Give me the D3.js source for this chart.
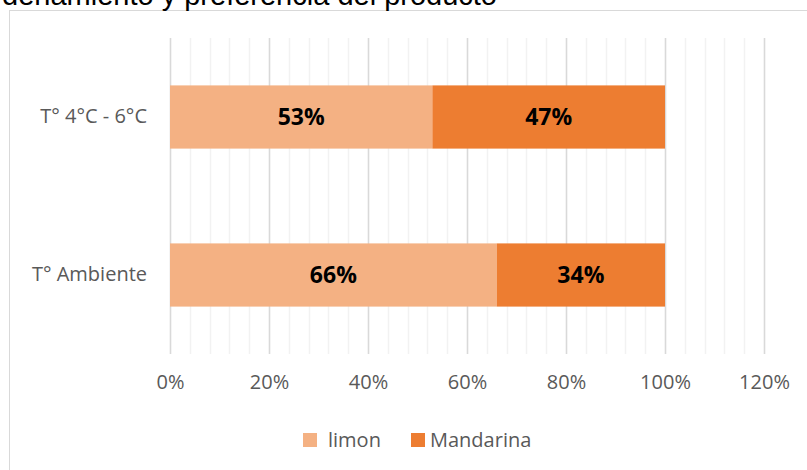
<!DOCTYPE html>
<html lang="es">
<head>
<meta charset="utf-8">
<title>limon vs mandarina</title>
<script src="https://cdn.jsdelivr.net/npm/d3@7"></script>
<style>
  body { margin: 0; background: #fff; }
  text { font-family: "Open Sans", sans-serif; }
</style>
</head>
<body>
<script>
// data
var categories = ["T° 4°C - 6°C", "T° Ambiente"];
var limon = [0.53, 0.66];
var mandarina = [0.47, 0.34];
var seriesNames = ["limon", "Mandarina"];
var tickValues = [0, 0.2, 0.4, 0.6, 0.8, 1.0, 1.2];
var titleText = "denamiento y preferencia del producto";

var w = 807, h = 470;
var colors = { limon: "#F4B183", Mandarina: "#ED7D31" };

var svg = d3.select("body").append("svg")
  .attr("width", w)
  .attr("height", h);

// chart border (runs off the right and bottom)
svg.append("rect")
  .attr("x", 9.5).attr("y", 10.5)
  .attr("width", w).attr("height", h)
  .attr("fill", "none")
  .attr("stroke", "#D9D9D9");

// title, only its lower part shows
svg.append("text")
  .attr("x", 497).attr("y", 5)
  .attr("text-anchor", "end")
  .style("font-family", "'Liberation Sans', Arial, sans-serif")
  .style("font-size", "29px")
  .attr("fill", "#000")
  .text(titleText);

var xScale = d3.scaleLinear().domain([0, 1.2]).range([170, 764]);
var yScale = d3.scaleBand().domain(categories).range([38, 354])
  .paddingInner(0.6).paddingOuter(0.3);

// minor gridlines every 4%
var minor = d3.range(0, 31).map(function(i) { return i * 0.04; });
svg.append("g").selectAll("line")
  .data(minor)
  .enter().append("line")
  .attr("x1", function(d) { return Math.round(xScale(d)) + 0.5; })
  .attr("x2", function(d) { return Math.round(xScale(d)) + 0.5; })
  .attr("y1", 38).attr("y2", 354)
  .attr("stroke", "#F2F2F2")
  .attr("stroke-width", 1.5);

// major gridlines
svg.append("g").selectAll("line")
  .data(tickValues)
  .enter().append("line")
  .attr("x1", function(d) { return Math.round(xScale(d)) + 0.5; })
  .attr("x2", function(d) { return Math.round(xScale(d)) + 0.5; })
  .attr("y1", 38).attr("y2", 354)
  .attr("stroke", "#D9D9D9")
  .attr("stroke-width", 1.5);

// stacked rows
var rows = categories.map(function(c, i) {
  return { cat: c, limon: limon[i], Mandarina: mandarina[i] };
});
var stacked = d3.stack().keys(seriesNames)(rows);

var layers = svg.append("g").selectAll("g")
  .data(stacked)
  .enter().append("g")
  .attr("fill", function(d) { return colors[d.key]; });

layers.selectAll("rect")
  .data(function(d) { return d; })
  .enter().append("rect")
  .attr("x", function(d) { return xScale(d[0]); })
  .attr("width", function(d) { return xScale(d[1]) - xScale(d[0]); })
  .attr("y", function(d) { return yScale(d.data.cat); })
  .attr("height", yScale.bandwidth());

// value labels
layers.selectAll("text")
  .data(function(d) { return d; })
  .enter().append("text")
  .attr("x", function(d) { return (xScale(d[0]) + xScale(d[1])) / 2; })
  .attr("y", function(d) { return yScale(d.data.cat) + yScale.bandwidth() / 2; })
  .attr("text-anchor", "middle")
  .attr("dy", "0.36em")
  .attr("fill", "#000")
  .style("font-size", "23px")
  .style("font-weight", "bold")
  .text(function(d) { return Math.round((d[1] - d[0]) * 100) + "%"; });

// x axis labels
var xAxis = d3.axisBottom(xScale)
  .tickValues(tickValues)
  .tickSize(0)
  .tickPadding(0)
  .tickFormat(d3.format(".0%"));

var gx = svg.append("g")
  .attr("transform", "translate(0,375)")
  .call(xAxis);
gx.select(".domain").remove();
gx.selectAll("text")
  .attr("fill", "#595959")
  .style("font-family", "'Open Sans', sans-serif")
  .style("font-size", "20px");

// category labels
var yAxis = d3.axisLeft(yScale).tickSize(0).tickPadding(0);
var gy = svg.append("g")
  .attr("transform", "translate(147,0)")
  .call(yAxis);
gy.select(".domain").remove();
gy.selectAll("text")
  .attr("fill", "#595959")
  .style("font-family", "'Open Sans', sans-serif")
  .style("font-size", "20px");

// legend
var legendX = [303, 411];
var legend = svg.append("g").selectAll("g")
  .data(seriesNames)
  .enter().append("g")
  .attr("transform", function(d, i) { return "translate(" + legendX[i] + ",433)"; });
legend.append("rect")
  .attr("width", 14).attr("height", 14)
  .attr("fill", function(d) { return colors[d]; });
legend.append("text")
  .attr("x", function(d, i) { return i === 0 ? 25 : 19; })
  .attr("y", 7)
  .attr("dy", "0.35em")
  .attr("fill", "#595959")
  .style("font-size", "20px")
  .text(function(d) { return d; });
</script>
</body>
</html>
